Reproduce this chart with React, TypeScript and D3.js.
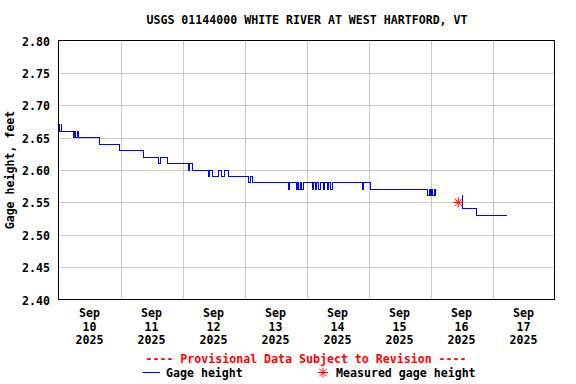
import React, { useEffect, useRef } from "react";
import * as d3 from "d3";

const title = "USGS 01144000 WHITE RIVER AT WEST HARTFORD, VT";
const yAxisLabel = "Gage height, feet";
const footNote = "---- Provisional Data Subject to Revision ----";
const legendLabels = ["Gage height", "Measured gage height"];

const yTicks = [2.4, 2.45, 2.5, 2.55, 2.6, 2.65, 2.7, 2.75, 2.8];
const days = ["2025-09-10", "2025-09-11", "2025-09-12", "2025-09-13", "2025-09-14", "2025-09-15", "2025-09-16", "2025-09-17"];
const dayLabels = ["10", "11", "12", "13", "14", "15", "16", "17"];

// gage height readings, each value holds until the next time (null = gap)
const times = [
  "2025-09-10 00:00", "2025-09-10 00:15", "2025-09-10 01:00", "2025-09-10 01:15",
  "2025-09-10 05:45", "2025-09-10 06:15", "2025-09-10 06:45", "2025-09-10 07:15", "2025-09-10 07:45",
  "2025-09-10 15:45", "2025-09-10 23:30",
  "2025-09-11 09:00", "2025-09-11 14:45", "2025-09-11 15:30", "2025-09-11 18:15",
  "2025-09-12 02:15", "2025-09-12 02:45", "2025-09-12 04:00", "2025-09-12 10:00", "2025-09-12 10:30",
  "2025-09-12 11:30", "2025-09-12 14:00", "2025-09-12 15:00", "2025-09-12 16:15", "2025-09-12 17:45",
  "2025-09-13 01:30", "2025-09-13 02:15", "2025-09-13 03:00", "2025-09-13 17:00", "2025-09-13 17:30",
  "2025-09-13 20:00", "2025-09-13 20:30", "2025-09-13 21:00", "2025-09-13 21:30", "2025-09-13 22:00",
  "2025-09-13 23:00",
  "2025-09-14 02:15", "2025-09-14 02:45", "2025-09-14 03:30", "2025-09-14 04:00", "2025-09-14 04:45",
  "2025-09-14 05:30", "2025-09-14 06:30", "2025-09-14 07:00", "2025-09-14 08:00", "2025-09-14 08:30",
  "2025-09-14 09:15", "2025-09-14 10:00", "2025-09-14 21:45", "2025-09-14 22:15",
  "2025-09-15 00:45", "2025-09-15 23:00", "2025-09-15 23:45",
  "2025-09-16 00:00", "2025-09-16 00:30", "2025-09-16 00:45", "2025-09-16 01:30", "2025-09-16 01:45",
  "2025-09-16 09:45", "2025-09-16 12:15", "2025-09-16 12:30", "2025-09-16 17:45",
  "2025-09-17 05:45",
];
const gage = [
  2.67, 2.66, 2.67, 2.66,
  2.65, 2.66, 2.65, 2.66, 2.65,
  2.64, 2.63,
  2.62, 2.61, 2.62, 2.61,
  2.60, 2.61, 2.60, 2.59, 2.60,
  2.59, 2.60, 2.59, 2.60, 2.59,
  2.58, 2.59, 2.58, 2.57, 2.58,
  2.57, 2.58, 2.57, 2.58, 2.57,
  2.58,
  2.57, 2.58, 2.57, 2.58, 2.57,
  2.58, 2.57, 2.58, 2.57, 2.58,
  2.57, 2.58, 2.57, 2.58,
  2.57, 2.56, 2.57,
  2.56, 2.57, 2.56, 2.57, 2.56,
  null, 2.56, 2.54, 2.53,
  2.53,
];

const measuredTimes = ["2025-09-16 10:45"];
const measuredValues = [2.55];

export default function App() {
  const ref = useRef<SVGSVGElement>(null);

  useEffect(() => {
    const svg = d3.select(ref.current);
    svg.selectAll("*").remove();

    const width = 576;
    const height = 384;
    const left = 58.5;
    const right = 554.5;
    const top = 40.5;
    const bottom = 299.5;
    const font = "'DejaVu Sans Mono', monospace";

    const parse = d3.timeParse("%Y-%m-%d %H:%M");
    const parseDay = d3.timeParse("%Y-%m-%d");
    const start = parseDay(days[0])!;
    const end = d3.timeDay.offset(parseDay(days[days.length - 1])!, 1);

    const x = d3.scaleTime().domain([start, end]).range([left, right]);
    const y = d3.scaleLinear().domain([2.4, 2.8]).range([bottom, top]);

    svg.append("rect").attr("width", width).attr("height", height).attr("fill", "white");

    const txt = (sel: any) =>
      sel.attr("font-family", font).attr("font-weight", "bold").attr("font-size", 11.6);

    // title
    svg.append("text").call(txt)
      .attr("x", (left + right) / 2 + 0.5).attr("y", 24)
      .attr("text-anchor", "middle").attr("fill", "black").text(title);

    // grid
    const grid = svg.append("g").attr("stroke", "#c8c8c8").attr("stroke-width", 1);
    grid.selectAll("line.h").data(yTicks.slice(1, -1)).enter().append("line")
      .attr("x1", left).attr("x2", right)
      .attr("y1", (d) => Math.round(y(d)) + 0.5).attr("y2", (d) => Math.round(y(d)) + 0.5);
    grid.selectAll("line.v").data(days.slice(1)).enter().append("line")
      .attr("x1", (d) => Math.round(x(parseDay(d)!)) + 0.5)
      .attr("x2", (d) => Math.round(x(parseDay(d)!)) + 0.5)
      .attr("y1", top).attr("y2", bottom);

    // y tick labels
    svg.append("g").selectAll("text").data(yTicks).enter().append("text").call(txt)
      .attr("x", 50).attr("y", (d) => Math.round(y(d)) + 4.5)
      .attr("text-anchor", "end").text((d) => d3.format(".2f")(d));

    // x labels at noon
    const xl = svg.append("g").selectAll("g").data(days).enter().append("g")
      .attr("transform", (d) => `translate(${x(d3.timeHour.offset(parseDay(d)!, 12))},0)`);
    xl.append("text").call(txt).attr("text-anchor", "middle").attr("y", 317).text("Sep");
    xl.append("text").call(txt).attr("text-anchor", "middle").attr("y", 330.5).text((d, i) => dayLabels[i]);
    xl.append("text").call(txt).attr("text-anchor", "middle").attr("y", 344).text((d) => d.slice(0, 4));

    // y axis title
    svg.append("text").call(txt)
      .attr("transform", `translate(14,${(top + bottom) / 2}) rotate(-90)`)
      .attr("text-anchor", "middle").text(yAxisLabel);

    // gage line
    const pts = times.map((t, i) => ({ t: parse(t)!, v: gage[i] }));
    const line = d3.line<any>()
      .defined((d) => d.v !== null)
      .x((d) => x(d.t))
      .y((d) => y(d.v))
      .curve(d3.curveStepAfter);
    svg.append("path").datum(pts)
      .attr("d", line)
      .attr("fill", "none").attr("stroke", "#0000ff").attr("stroke-width", 1)
      .attr("shape-rendering", "crispEdges");

    // measurement star
    const star = (r: number) =>
      `M${-r},0L${r},0M0,${-r}L0,${r}M${-r * 0.75},${-r * 0.75}L${r * 0.75},${r * 0.75}M${-r * 0.75},${r * 0.75}L${r * 0.75},${-r * 0.75}`;
    svg.append("g").selectAll("path").data(measuredTimes).enter().append("path")
      .attr("transform", (d, i) => `translate(${x(parse(d)!)},${y(measuredValues[i])})`)
      .attr("d", star(5)).attr("stroke", "red").attr("stroke-width", 1).attr("fill", "none");

    // frame
    svg.append("rect").attr("x", left).attr("y", top)
      .attr("width", right - left).attr("height", bottom - top)
      .attr("fill", "none").attr("stroke", "black").attr("stroke-width", 1);

    // footnote
    svg.append("text").call(txt).attr("x", 306).attr("y", 363)
      .attr("text-anchor", "middle").attr("fill", "red").text(footNote);

    // legend
    svg.append("line").attr("x1", 142.5).attr("x2", 160).attr("y1", 372.5).attr("y2", 372.5)
      .attr("stroke", "#0000ff").attr("stroke-width", 1);
    svg.append("text").call(txt).attr("x", 166).attr("y", 376.5).text(legendLabels[0]);
    svg.append("path").attr("transform", "translate(323,372.5)")
      .attr("d", star(5)).attr("stroke", "red").attr("stroke-width", 1).attr("fill", "none");
    svg.append("text").call(txt).attr("x", 336).attr("y", 376.5).text(legendLabels[1]);
  }, []);

  return (
    <svg
      ref={ref}
      width={576}
      height={384}
      style={{ position: "absolute", left: 0, top: 0, display: "block" }}
    />
  );
}
